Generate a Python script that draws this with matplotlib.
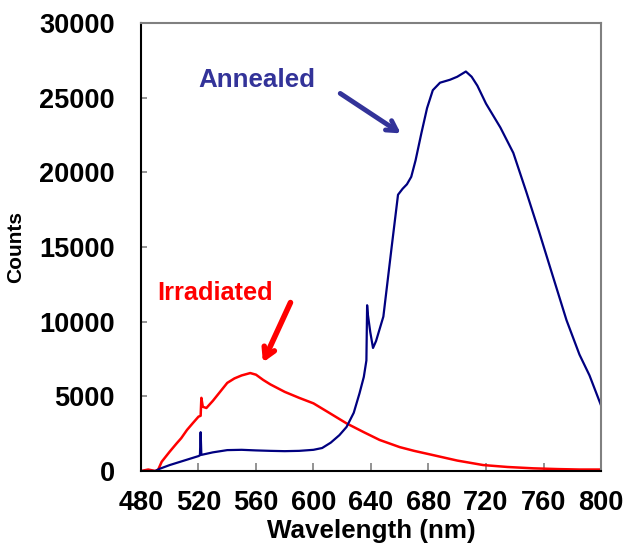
import matplotlib.pyplot as plt

plt.rcParams['font.family'] = ['Liberation Sans', 'DejaVu Sans']
plt.rcParams['font.weight'] = 'bold'

# Annealed spectrum (wavelength nm, counts)
annealed_wl = [480, 490, 493, 500, 510, 520, 521, 521.5, 522, 530, 540, 550, 560, 570,
               580, 590, 600, 606, 612, 618, 623, 628, 632, 635, 636.8, 637.3, 637.8,
               639.5, 641.4, 643.5, 648.6, 654.4, 658.8, 662, 665, 668, 671, 675, 679,
               683, 688, 695, 700, 706, 710, 714, 720, 730, 739, 748, 757, 766, 776,
               785, 792, 800]
annealed_counts = [0, 0, 150, 400, 700, 1000, 1050, 2600, 1080, 1250, 1400, 1420, 1380,
                   1350, 1330, 1350, 1420, 1540, 1900, 2400, 2950, 3900, 5200, 6300, 7400,
                   11100, 10500, 9300, 8240, 8700, 10340, 15020, 18500, 18900, 19200,
                   19700, 20800, 22600, 24300, 25500, 26000, 26200, 26400, 26750, 26400,
                   25800, 24600, 23000, 21300, 18700, 16000, 13200, 10100, 7800, 6400, 4400]

# Irradiated spectrum
irr_wl = [480, 485, 490, 492, 494.4, 500, 504.8, 508, 512, 516, 520, 521.5, 522, 523,
          525.5, 530, 535, 540, 545, 550, 556, 560, 565, 570, 580, 590, 600, 610, 623,
          635, 646, 660, 670, 683, 700, 718, 735, 753, 770, 785, 800]
irr_counts = [0, 100, 0, 100, 620, 1300, 1850, 2200, 2750, 3200, 3640, 3700, 4900, 4300,
              4220, 4700, 5300, 5900, 6200, 6400, 6560, 6450, 6100, 5800, 5300, 4900,
              4530, 3950, 3190, 2600, 2080, 1600, 1350, 1070, 700, 400, 270, 180, 130,
              100, 100]

x_ticks = [480, 520, 560, 600, 640, 680, 720, 760, 800]
y_ticks = [0, 5000, 10000, 15000, 20000, 25000, 30000]

fig = plt.figure(figsize=(6.23, 5.47), dpi=100)
ax = fig.add_axes([0.2263, 0.1389, 0.7384, 0.8191])

ax.plot(irr_wl, irr_counts, color='#ff0000', lw=1.8)
ax.plot(annealed_wl, annealed_counts, color='#000080', lw=1.6)

ax.set_xlim(480, 800)
ax.set_ylim(0, 30000)
ax.set_xticks(x_ticks)
ax.set_yticks(y_ticks)
ax.tick_params(direction='in', color='#808080', width=1.2, labelsize=19.5)
ax.tick_params(axis='x', pad=13.7, length=6)
ax.tick_params(axis='y', pad=18.7, length=4.5)
for lab in ax.get_xticklabels() + ax.get_yticklabels():
    lab.set_fontweight('bold')

ax.spines['left'].set_color('black')
ax.spines['bottom'].set_color('black')
ax.spines['top'].set_color('#808080')
ax.spines['right'].set_color('#808080')
for s in ax.spines.values():
    s.set_linewidth(1.5)

ax.set_xlabel('Wavelength (nm)', fontsize=18.7, fontweight='bold')
ax.set_ylabel('Counts', fontsize=15, fontweight='bold')
ax.xaxis.set_label_coords(0.5, -0.106)
ax.yaxis.set_label_coords(-0.252, 0.5)

ax.text(560.3, 26190, 'Annealed', color='#333399', fontsize=18.7, fontweight='bold',
        ha='center', va='center')
ax.annotate('', xy=(662.3, 22505), xytext=(617, 25385),
            arrowprops=dict(arrowstyle='->,head_length=0.7,head_width=0.4',
                            color='#333399', lw=3.5))

ax.text(531.8, 11920, 'Irradiated', color='#ff0000', fontsize=18.3, fontweight='bold',
        ha='center', va='center')
ax.annotate('', xy=(564, 7100), xytext=(584.8, 11450),
            arrowprops=dict(arrowstyle='->,head_length=0.7,head_width=0.4',
                            color='#ff0000', lw=4))

fig.savefig('out.png', dpi=100)
